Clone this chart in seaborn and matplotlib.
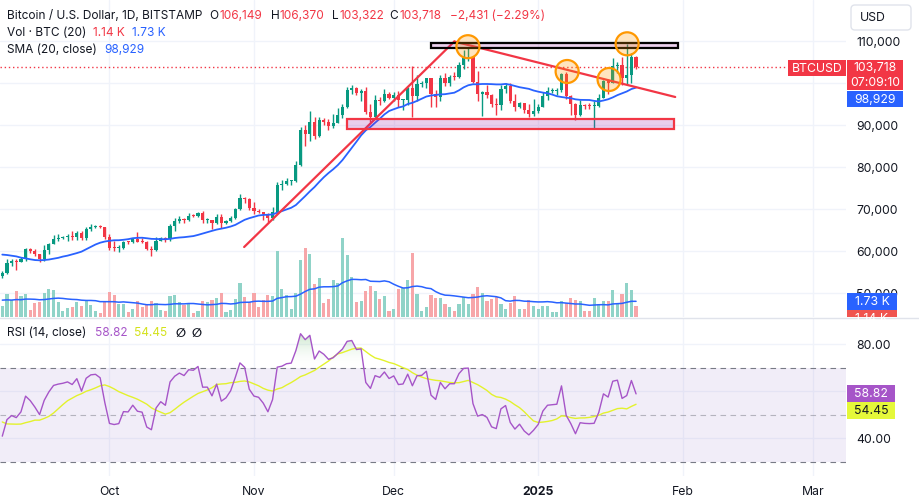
import numpy as np
import pandas as pd
import matplotlib
matplotlib.use("Agg")
import matplotlib.pyplot as plt
import matplotlib.dates as mdates
import seaborn as sns
from matplotlib.patches import Rectangle, Ellipse, FancyBboxPatch
from matplotlib.path import Path
from matplotlib.colors import LinearSegmentedColormap

sns.set_theme(style="white")
plt.rcParams['font.family'] = ['Inter', 'DejaVu Sans']

# ---------------- data ----------------
start_date = "2024-09-08"
opens = [54160, 54840, 57050, 57650, 57350, 58130, 60570, 60010, 59190, 58210, 60320, 61760, 62950, 63200, 63350, 63580, 63340, 64260, 63140, 65180, 65790, 65880, 65600,
         63330, 60800, 60650, 60750, 62090, 62060, 62820, 62220, 62130, 60580, 60270, 62450, 63190, 62850, 66050, 67040, 67610, 67400, 68400, 68360, 69000, 67370, 67380, 66660, 68160, 66640, 67040, 67930, 69900, 72720, 72340,
         70220, 69480, 69350, 68740, 67800, 69360, 75640, 75900, 76550, 76700, 80370, 88700, 87950, 90600, 87300, 91100, 90600, 89850, 90500, 92300, 94300, 98400, 98900, 97700, 98000, 93000, 91950, 95950, 95650, 97450,
         96400, 97200, 95850, 96000, 98700, 96950, 99800, 99900, 101100, 97400, 96650, 101100, 100000, 101450, 101400, 104300, 106000, 106100, 100200, 97450, 97800, 97200, 95100, 94700, 98650, 99400, 95800, 94200, 95150, 93550, 92600,
         93400, 94400, 96900, 98100, 98200, 98300, 102200, 96900, 95000, 92500, 94700, 94550, 94500, 94550, 96500, 100500, 99950, 104100, 104400, 101300, 102000, 106149]
highs = [55300, 58100, 58050, 57990, 58600, 60650, 60650, 60380, 59210, 61350, 61800, 63850, 64100, 63550, 64000, 64750, 64700, 64820, 65800, 66500, 66250, 66080, 65600,
         64100, 62400, 61450, 62450, 62350, 62950, 64450, 63150, 62500, 61300, 63400, 63450, 63300, 66450, 67900, 68400, 67950, 68950, 68700, 69400, 69500, 67850, 67450, 68850, 68750, 67350, 68350, 70250, 73600, 72950, 72650,
         71600, 70000, 69380, 69000, 70550, 76400, 76950, 77300, 76950, 81500, 89600, 89950, 93450, 91800, 91850, 91700, 91400, 92600, 94000, 94900, 98950, 99600, 99000, 98650, 98950, 94950, 97200, 96650, 98650, 97900,
         97850, 98150, 96300, 99000, 104000, 101900, 100550, 101300, 101200, 98300, 101900, 102500, 101900, 102600, 105100, 107750, 108300, 106450, 102750, 98200, 99500, 97400, 96450, 99450, 99950, 99950, 97300, 95500, 95200, 94900, 96150,
         94950, 97750, 98950, 98750, 98800, 102500, 102700, 97250, 95350, 95850, 95000, 95350, 95800, 97350, 100700, 100850, 105850, 104950, 106300, 109300, 107200, 106370]
lows = [53650, 54600, 56400, 55550, 57350, 57650, 59550, 58700, 57500, 57650, 59200, 61600, 62400, 62750, 62400, 62650, 62700, 62700, 62700, 64850, 65450, 65400, 62850,
        60200, 59950, 59850, 60450, 61650, 61850, 62100, 61850, 60300, 58900, 60050, 62450, 62050, 62450, 64800, 66750, 66700, 67150, 68100, 68100, 66600, 66600, 65250, 66500, 65500, 66500, 66800, 67550, 69750, 71450, 69700,
        68800, 69000, 67450, 66850, 67450, 69100, 74600, 75600, 75750, 76500, 80250, 85100, 86250, 86700, 87100, 90050, 88800, 89400, 90500, 91600, 94100, 97300, 97200, 95800, 92650, 90800, 91800, 94650, 95400, 96300,
        95700, 94400, 93600, 94700, 91900, 95750, 98950, 98700, 94200, 94300, 95650, 99300, 99200, 100600, 101300, 103350, 105300, 100100, 95650, 92150, 96450, 94250, 92450, 93500, 97600, 95150, 93300, 94100, 92900, 91900, 92100,
        92800, 94200, 96000, 97550, 97250, 97900, 96150, 92500, 91200, 92200, 93800, 93700, 89200, 94350, 96450, 97350, 99950, 102300, 99600, 99450, 100100, 103322]
closes = [54840, 57050, 57650, 57350, 58130, 60570, 60010, 59190, 58210, 60320, 61760, 62950, 63200, 63350, 63580, 63340, 64260, 63140, 65180, 65790, 65880, 65600, 63330,
          60800, 60650, 60750, 62090, 62060, 62820, 62220, 62130, 60580, 60270, 62450, 63190, 62850, 66050, 67040, 67610, 67400, 68400, 68360, 69000, 67370, 67380, 66660, 68160, 66640, 67040, 67930, 69900, 72720, 72340, 70220,
          69480, 69350, 68740, 67800, 69360, 75640, 75900, 76550, 76700, 80370, 88700, 87950, 90600, 87300, 91100, 90600, 89850, 90500, 92300, 94300, 98400, 98900, 97700, 98000, 93000, 91950, 95950, 95650, 97450, 96400,
          97200, 95850, 96000, 98700, 96950, 99800, 99900, 101100, 97400, 96650, 101100, 100000, 101400, 101400, 104300, 106000, 106100, 100200, 97450, 97800, 97200, 95100, 94700, 98650, 99400, 95800, 94200, 95150, 93550, 92600, 93400,
          94400, 96900, 98100, 98200, 98300, 102200, 96900, 95000, 92500, 94700, 94550, 94500, 94550, 96500, 100500, 99950, 104100, 104400, 101300, 102000, 106149, 103718]
# volume, thousands of BTC
volumes = [1.18, 2.47, 1.83, 2.80, 2.26, 2.47, 0.75, 1.51, 1.61, 2.58, 3.01, 2.90, 1.61, 0.65, 0.97, 1.08, 1.61, 1.18, 1.83, 1.29, 0.65, 0.43, 1.72,
           2.69, 2.37, 1.40, 1.40, 0.54, 0.86, 1.72, 1.08, 1.29, 1.72, 1.51, 0.72, 0.61, 2.26, 2.37, 1.61, 1.29, 1.40, 0.43, 0.65, 1.72, 1.61, 1.83, 2.04, 2.58, 0.54, 0.75, 1.94, 3.66, 2.15, 1.61,
           2.58, 1.08, 1.83, 2.37, 2.26, 7.10, 3.01, 2.37, 0.86, 2.58, 6.13, 7.42, 6.77, 3.55, 4.19, 1.51, 1.94, 3.98, 3.66, 8.49, 6.67, 4.30, 1.61, 1.72, 2.80, 3.33, 2.80, 1.94, 2.26, 0.65,
           0.86, 3.01, 3.12, 3.98, 6.88, 2.47, 0.65, 1.08, 2.37, 2.04, 2.04, 1.40, 1.08, 0.65, 1.40, 2.15, 1.40, 2.47, 3.23, 2.58, 1.72, 1.94, 2.15, 1.40, 0.86, 1.51, 2.26, 0.86, 0.86, 1.83, 1.18,
           0.86, 1.18, 1.18, 0.54, 0.54, 1.72, 1.51, 2.04, 1.83, 1.72, 0.65, 0.65, 2.04, 1.40, 1.72, 1.72, 2.90, 1.40, 2.47, 3.66, 2.90, 1.14]
# closes / volumes before the visible window (indicator warm-up, 2024-07-14 .. 2024-09-07)
warmup_close = [60800, 64750, 65050, 64100, 63950, 66700, 67150, 68150, 67550, 65950, 65350, 65800, 67900, 67850, 68250, 66800, 66200, 64600,
                65350, 61450, 60700, 58100, 54000, 56050, 55100, 61700, 60850, 60930, 58710, 59350, 60610, 58740, 57560, 58880, 59480, 58460, 59490,
                59030, 61170, 60380, 64100, 64180, 64250, 62840, 59420, 59030, 59370, 59120, 58970, 57330, 59130, 57480, 57970, 56160, 53960, 54160]
warmup_volume = [1.9, 2.3, 1.7, 2.6, 1.1, 0.8, 1.9, 2.6, 2.2, 1.8, 1.6, 1.0, 1.3, 2.2, 1.9, 2.0, 2.5, 2.4, 1.3]

month_ticks = ["2024-10-01", "2024-11-01", "2024-12-01", "2025-01-01", "2025-02-01", "2025-03-01"]
month_labels = ["Oct", "Nov", "Dec", "2025", "Feb", "Mar"]
price_ticks = [50000, 60000, 70000, 80000, 90000, 100000, 110000]
price_tick_labels = ["50,000", "60,000", "70,000", "80,000", "90,000", "", "110,000"]  # 100,000 hidden under the price tag
rsi_ticks = [40, 60, 80]
rsi_tick_labels = ["40.00", "", "80.00"]  # 60.00 hidden under the RSI tags

# drawings (date, price)
up_line = [("2024-10-29 21:36", 60950), ("2024-12-14 00:00", 109880)]
down_line = [("2024-12-14 00:00", 109880), ("2025-01-30 09:36", 96670)]
black_zone = [("2024-12-09", 108333), ("2025-01-31", 109524)]
red_zone = [("2024-11-21", 89048), ("2025-01-30 02:24", 91429)]
circles = [("2024-12-16 22:00", 108643), ("2025-01-07 05:00", 102738), ("2025-01-16 05:00", 100833), ("2025-01-20 02:00", 109333)]

legend_price = ["106,149", "106,370", "103,322", "103,718", "−2,431 (−2.29%)"]
vol_last, vol_ma_last = "1.14 K", "1.73 K"
sma_last = "98,929"
rsi_last, rsi_ma_last = "58.82", "54.45"
countdown = "07:09:10"

# ---------------- indicators ----------------
all_close = pd.Series(warmup_close + closes, dtype=float)
nw = len(warmup_close)
sma20 = all_close.rolling(20).mean().values[nw:]
delta = all_close.diff()
up = delta.clip(lower=0)
dn = (-delta).clip(lower=0)
rs = up.ewm(alpha=1/14, adjust=False).mean() / dn.ewm(alpha=1/14, adjust=False).mean()
rsi_all = 100 - 100 / (1 + rs)
rsi = rsi_all.values[nw:]
rsi_ma = rsi_all.rolling(14).mean().values[nw:]
all_vol = pd.Series(warmup_volume + volumes, dtype=float)
vol_ma = all_vol.rolling(20).mean().values[len(warmup_volume):]

dates = pd.date_range(start_date, periods=len(closes), freq="D")
x = mdates.date2num(dates)
o, h, l, c = map(np.array, (opens, highs, lows, closes))
is_up = c >= o
GREEN, RED, BLUE = "#089981", "#F23645", "#2962FF"
cand_col = np.where(is_up, GREEN, RED)
vol_col = np.where(is_up, "#90D3C8", "#F7A6A9")
PURPLE, YELLOW, DARK = "#A655C8", "#E3F22C", "#131722"
GRID = "#F0F3FA"

# ---------------- layout ----------------
W, H = 919, 503
fig = plt.figure(figsize=(W / 100, H / 100), dpi=100)
fig.patch.set_facecolor("white")
def rect(x0, y0, x1, y1):
    return [x0 / W, 1 - y1 / H, (x1 - x0) / W, (y1 - y0) / H]

ax_bg = fig.add_axes(rect(0, 0, 846, 317))
ax_v = fig.add_axes(rect(0, 0, 846, 317), sharex=ax_bg)
ax_p = fig.add_axes(rect(0, 0, 846, 317), sharex=ax_bg, sharey=ax_bg)
ax_r = fig.add_axes(rect(0, 319, 846, 476), sharex=ax_bg)
ax_bg.set_zorder(0); ax_v.set_zorder(1); ax_p.set_zorder(2)
for a in (ax_v, ax_p):
    a.patch.set_visible(False)

xlim = (x[0] - 0.49, x[0] + 181.05)
ax_bg.set_xlim(*xlim)
ax_bg.set_ylim(44286, 119762)
ax_v.set_ylim(0, 317 / 9.3)
ax_r.set_ylim(23.96, 90.77)

for a in (ax_bg, ax_v, ax_p, ax_r):
    for s in a.spines.values():
        s.set_visible(False)
    a.tick_params(length=0)

TFS = 8.8
mt = mdates.date2num(pd.to_datetime(month_ticks))
ax_bg.set_xticks(mt)
ax_bg.set_yticks(price_ticks)
ax_bg.grid(True, color=GRID, lw=1)
ax_bg.tick_params(axis="y", left=False, right=False, labelleft=False, labelright=True, pad=7.2,
                  labelsize=TFS, labelcolor=DARK)
ax_bg.set_yticklabels(price_tick_labels)
for a in (ax_bg, ax_v, ax_p):
    a.tick_params(axis="x", labelbottom=False)
ax_v.set_yticks([]); ax_p.tick_params(axis="y", labelleft=False, labelright=False)
ax_p.grid(False); ax_v.grid(False)

# volume
ax_v.bar(x, volumes, width=0.68, color=vol_col, lw=0, zorder=1)
sns.lineplot(x=x, y=vol_ma, ax=ax_v, color=BLUE, lw=1.1, zorder=2)
ax_v.set_xlabel(""); ax_v.set_ylabel("")

# candles
ax_p.vlines(x, l, h, colors=cand_col, lw=1, zorder=3)
body_lo = np.minimum(o, c)
body_h = np.maximum(np.abs(c - o), 240)
ax_p.bar(x, body_h, bottom=body_lo, width=0.68, color=cand_col, lw=0, zorder=4)
sns.lineplot(x=x, y=sma20, ax=ax_p, color=BLUE, lw=1.3, zorder=5)
ax_p.axhline(closes[-1], color=RED, lw=1, ls=(0, (1, 2)), zorder=2)

# drawings
def dn_(s):
    return mdates.date2num(pd.Timestamp(s))
for ln in (up_line, down_line):
    ax_p.plot([dn_(ln[0][0]), dn_(ln[1][0])], [ln[0][1], ln[1][1]], color=RED, lw=1.6,
              solid_capstyle="round", zorder=6)
for zone, ec in ((black_zone, "black"), (red_zone, RED)):
    x0, x1 = dn_(zone[0][0]), dn_(zone[1][0])
    ax_p.add_patch(Rectangle((x0, zone[0][1]), x1 - x0, zone[1][1] - zone[0][1],
                             fc=(156 / 255, 39 / 255, 176 / 255, 0.22), ec=ec, lw=1.6, zorder=6))
cw, ch = 23 / 4.66, 23 / 4.2 * 1000
for d, p in circles:
    ax_p.add_patch(Ellipse((dn_(d), p), cw, ch, fc=(1, 0.596, 0, 0.25), ec="#FF9800", lw=1.6, zorder=7))
ax_p.set_xlabel(""); ax_p.set_ylabel("")

# RSI pane
ax_r.set_yticks(rsi_ticks)
ax_r.set_yticklabels(rsi_tick_labels)
ax_r.set_xticks(mt)
ax_r.set_xticklabels(month_labels)
ax_r.grid(True, color=GRID, lw=1)
ax_r.set_axisbelow(True)
ax_r.tick_params(axis="y", left=False, labelleft=False, labelright=True, pad=7.2, labelsize=TFS, labelcolor=DARK)
ax_r.tick_params(axis="x", pad=7, labelsize=TFS, labelcolor=DARK)
ax_r.get_xticklabels()[3].set_fontweight("bold")
ax_r.axhspan(30, 70, color=(126 / 255, 87 / 255, 194 / 255, 0.1), lw=0, zorder=1)
ax_r.axhline(70, color="#787B86", lw=0.8, ls=(0, (5, 4)), zorder=2)
ax_r.axhline(30, color="#787B86", lw=0.8, ls=(0, (5, 4)), zorder=2)
ax_r.axhline(50, color="#787B86", lw=0.8, ls=(0, (5, 4)), alpha=0.5, zorder=2)
coll = ax_r.fill_between(x, 70, rsi, where=rsi > 70, interpolate=True, facecolor="none", edgecolor="none")
paths = [pp for pp in coll.get_paths() if len(pp.vertices) > 2]
if paths:
    cp = Path.make_compound_path(*paths)
    grad = np.linspace(0, 1, 256).reshape(-1, 1)
    cmap = LinearSegmentedColormap.from_list("g", [(1, 1, 1, 0), (0.298, 0.686, 0.314, 0.55)])
    im = ax_r.imshow(grad, extent=[x[0], x[-1], 70, 90], origin="lower", aspect="auto", cmap=cmap, zorder=3)
    im.set_clip_path(cp, transform=ax_r.transData)
sns.lineplot(x=x, y=rsi_ma, ax=ax_r, color=YELLOW, lw=1, zorder=4)
sns.lineplot(x=x, y=rsi, ax=ax_r, color=PURPLE, lw=1, zorder=5)
ax_r.set_xlim(*xlim)
ax_r.set_ylim(23.96, 90.77)
ax_r.set_xlabel(""); ax_r.set_ylabel("")

# ---------------- overlay (legends, price labels) ----------------
ax_o = fig.add_axes([0, 0, 1, 1])
ax_o.set_xlim(0, W); ax_o.set_ylim(H, 0)
ax_o.axis("off"); ax_o.set_zorder(10); ax_o.patch.set_visible(False)
ax_o.plot([0, W], [318, 318], color="#E0E3EB", lw=1, zorder=1)

def py(ax, val):
    return H - ax.transData.transform((xlim[0], val))[1]

FS = 8.55
def txt(xp, yp, s, col=DARK, **kw):
    ax_o.text(xp, yp, s, color=col, fontsize=FS, ha="left", va="center", **kw)

txt(7, 15.5, "Bitcoin / U.S. Dollar, 1D, BITSTAMP")
for lab, xl, val, xv in (("O", 209, legend_price[0], 220), ("H", 271, legend_price[1], 280),
                         ("L", 332, legend_price[2], 339), ("C", 389, legend_price[3], 399)):
    txt(xl, 15.5, lab)
    txt(xv, 15.5, val, RED)
txt(450, 15.5, legend_price[4], RED)
txt(7, 33, "Vol · BTC (20)")
txt(93, 33, vol_last, RED)
txt(132, 33, vol_ma_last, BLUE)
txt(7, 50, "SMA (20, close)")
txt(104, 50, sma_last, BLUE)
txt(7, 333.5, "RSI (14, close)")
txt(95, 333.5, rsi_last, PURPLE)
txt(134, 333.5, rsi_ma_last, "#D4E21C")
txt(176, 333.5, "∅", family=["DejaVu Sans"], fontweight="bold")
txt(191, 333.5, "∅", family=["DejaVu Sans"], fontweight="bold")

def box(x0, y0, w, hgt, fc, lines, tc="white", clip=None):
    r = Rectangle((x0, y0), w, hgt, fc=fc, ec="none", zorder=5)
    ax_o.add_patch(r)
    if clip is not None:
        r.set_clip_path(clip)
    n = len(lines)
    for i, s in enumerate(lines):
        t = ax_o.text(x0 + w / 2, y0 + hgt * (i + 0.5) / n + 0.5, s, color=tc, fontsize=TFS,
                      ha="center", va="center", zorder=6)
        if clip is not None:
            t.set_clip_path(clip)

yc = py(ax_p, closes[-1])
box(788, yc - 7.5, 58, 16.5, RED, ["BTCUSD"])
box(847, yc - 7.5, 56, 30, RED, [f"{closes[-1]:,}", countdown])
ys = max(py(ax_p, sma20[-1]) - 8, yc - 7.5 + 31)
box(847, ys, 56, 16.5, BLUE, [sma_last])

clip_r = Rectangle((846, 0), 73, 317, transform=ax_o.transData)
yv = py(ax_v, vol_ma[-1])
box(847, yv - 8.5, 50, 17, BLUE, [vol_ma_last], clip=clip_r)
box(847, yv + 8.5, 50, 17, "#F0544F", [vol_last], clip=clip_r)

yr = py(ax_r, rsi[-1])
box(847, yr - 8.5, 48, 17, PURPLE, [rsi_last])
box(847, yr + 8.5, 48, 16.5, "#E5F83A", [rsi_ma_last], tc=DARK)

ax_o.add_patch(FancyBboxPatch((851, 5), 60, 25, boxstyle="round,pad=0,rounding_size=4",
                              fc="white", ec="#E0E3EB", lw=1, zorder=5))
ax_o.text(860, 17.5, "USD", color=DARK, fontsize=TFS, ha="left", va="center", zorder=6)

fig.savefig("out.png", dpi=100, facecolor="white")
